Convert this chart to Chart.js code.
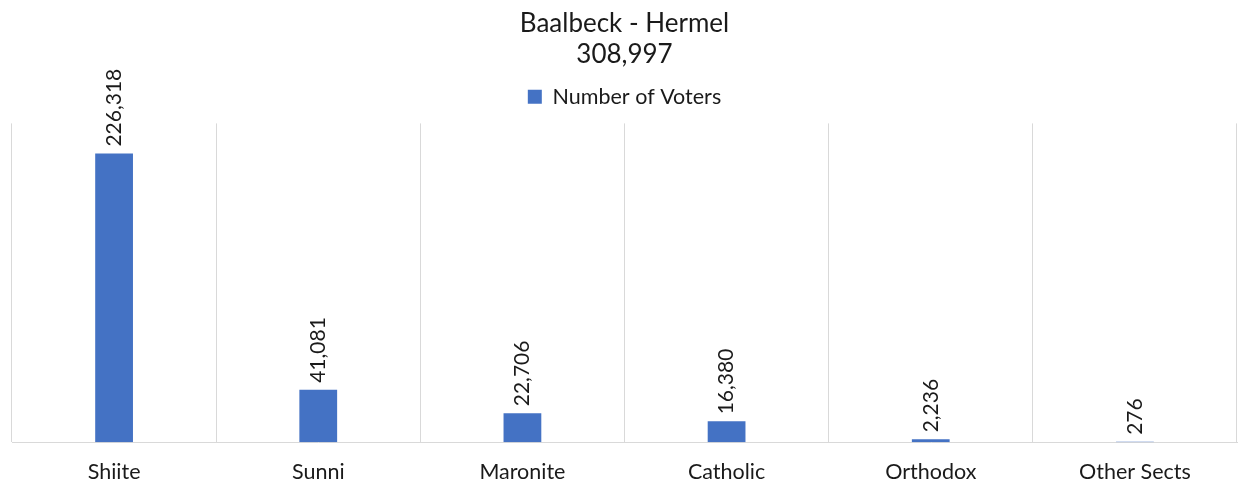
<!DOCTYPE html>
<html>
<head>
<meta charset="utf-8">
<script src="https://cdn.jsdelivr.net/npm/chart.js@4.4.1/dist/chart.umd.min.js"></script>
<style>
  html, body { margin: 0; padding: 0; background: #fff; }
  #wrap { width: 1238px; height: 485px; }
</style>
</head>
<body>
<div id="wrap"><canvas id="voters_chart"></canvas></div>
<script>
// chart data
var sects = ["Shiite", "Sunni", "Maronite", "Catholic", "Orthodox", "Other Sects"];
var voters = [226318, 41081, 22706, 16380, 2236, 276];
var titleLines = ["Baalbeck - Hermel", "308,997"];
var seriesName = "Number of Voters";

var fontFamily = "Lato, 'Noto Sans', sans-serif";

// draws the value above each bar, rotated
var barLabels = {
    id: "barLabels",
    afterDatasetsDraw: function(chart) {
        let ctx = chart.ctx;
        let meta = chart.getDatasetMeta(0);
        ctx.save();
        ctx.font = "21px " + fontFamily;
        ctx.fillStyle = "#1a1a1a";
        ctx.textAlign = "left";
        ctx.textBaseline = "middle";
        meta.data.forEach(function(bar, i) {
            ctx.save();
            ctx.translate(bar.x, bar.y - 7);
            ctx.rotate(-Math.PI / 2);
            ctx.fillText(voters[i].toLocaleString("en-US"), 0, 0);
            ctx.restore();
        });
        ctx.restore();
    }
};

// extra room under the legend
var legendGap = {
    id: "legendGap",
    beforeInit: function(chart) {
        let origFit = chart.legend.fit;
        chart.legend.fit = function() {
            origFit.bind(chart.legend)();
            this.height += 6;
        };
    }
};

let ctx = document.getElementById("voters_chart").getContext("2d");
let currentChart = new Chart(ctx, {
    type: "bar",
    data: {
        labels: sects,
        datasets: [{
            label: seriesName,
            data: voters,
            backgroundColor: "#4472C4",
            barPercentage: 0.37,
            categoryPercentage: 0.5
        }]
    },
    options: {
        responsive: true,
        maintainAspectRatio: false,
        animation: false,
        layout: {
            // the x axis reserves its tick padding twice, so pull the bottom back
            padding: { left: 12, right: 1, top: 8, bottom: -17 }
        },
        plugins: {
            title: {
                display: true,
                text: titleLines,
                color: "#1a1a1a",
                font: { family: fontFamily, size: 26, weight: "normal", lineHeight: 1.2 },
                padding: { top: 0, bottom: -4.5 }
            },
            legend: {
                display: true,
                labels: {
                    color: "#1a1a1a",
                    font: { family: fontFamily, size: 21.5 },
                    boxWidth: 14,
                    boxHeight: 14,
                    padding: 20
                }
            },
            tooltip: { enabled: false }
        },
        scales: {
            x: {
                grid: {
                    display: true,
                    offset: true,
                    color: "#d9d9d9",
                    drawTicks: false
                },
                border: { display: true, color: "#d9d9d9" },
                ticks: {
                    color: "#1a1a1a",
                    font: { family: fontFamily, size: 21.5 },
                    padding: 17,
                    maxRotation: 0
                }
            },
            y: {
                display: false,
                min: 0,
                max: 250000
            }
        }
    },
    plugins: [barLabels, legendGap]
});
</script>
</body>
</html>
